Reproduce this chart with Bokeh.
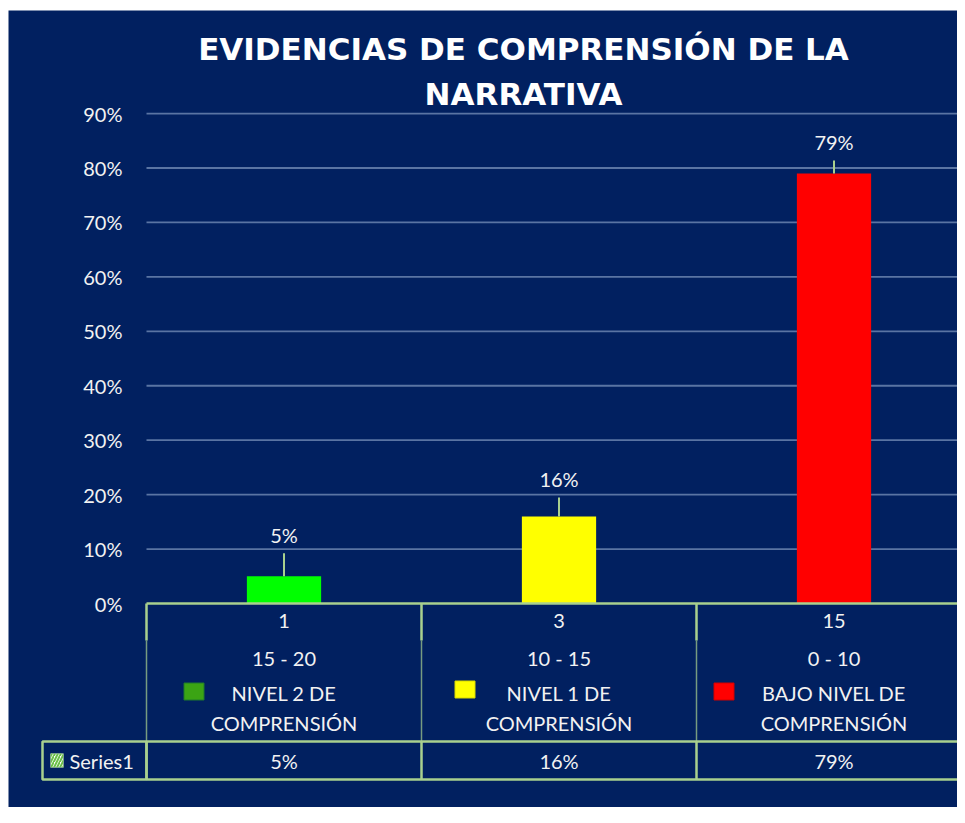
from bokeh.plotting import figure
from bokeh.models import Range1d, FixedTicker, NumeralTickFormatter
from bokeh.core.properties import value
from bokeh.embed import file_html
from bokeh.resources import INLINE

# ---------------- data ----------------
counts = ["1", "3", "15"]
score_ranges = ["15 - 20", "10 - 15", "0 - 10"]
level_line1 = ["NIVEL 2 DE", "NIVEL 1 DE", "BAJO NIVEL DE"]
level_line2 = ["COMPRENSIÓN", "COMPRENSIÓN", "COMPRENSIÓN"]
percentages = [0.05, 0.16, 0.79]
series_name = "Series1"
y_ticks = [0.0, 0.1, 0.2, 0.3, 0.4, 0.5, 0.6, 0.7, 0.8, 0.9]
title_lines = ["EVIDENCIAS DE COMPRENSIÓN DE LA", "NARRATIVA"]

# ---------------- style ----------------
BG = "#012060"
TXT = "#F2F2F2"
GRID = "#5a74a3"
TBL = "#a9d08e"
bar_colors = ["#00FF00", "#FFFF00", "#FF0000"]
key_colors = ["#3BA414", "#FFFF00", "#FF0000"]
key_lines = ["#1f7a2a", "#d8d800", "#d00000"]
key_dx_px = [-90, -94, -110]
key_y_px = [691, 689, 691]
label_dy_px = [-41, -37, -31]
leader_px = [23, 19, 13]
FONT = "Lato"
FS = "20px"
UNIT = 275.0          # px per category
YPX = 544.4           # px per 1.0 (100%)
W, H = 957, 807
FL, FT = 8, 10        # frame left / top (canvas px)
X0, Y0 = 146, 603     # canvas position of category origin / 0%

xs = [i + 0.5 for i in range(len(percentages))]
pct_labels = [f"{round(v * 100)}%" for v in percentages]

p = figure(width=W, height=H, output_backend="svg", toolbar_location=None,
           x_range=Range1d((FL - X0) / UNIT, (W - X0) / UNIT),
           y_range=Range1d(-(H - Y0) / YPX, (Y0 - FT) / YPX),
           x_axis_location=None,
           min_border_left=FL, min_border_right=0, min_border_top=FT, min_border_bottom=0,
           background_fill_color=BG, border_fill_color="#FFFFFF", outline_line_color=None)

# pixel ranges for layout-only elements (title, table frame)
p.extra_x_ranges = {"px": Range1d(start=FL, end=W)}
p.extra_y_ranges = {"px": Range1d(start=H, end=FT)}

# title
p.text(x=[523, 523], y=[48, 93], text=title_lines, x_range_name="px", y_range_name="px",
       text_align="center", text_baseline="middle", text_color="#FFFFFF",
       text_font=value("DejaVu Sans"), text_font_style="bold", text_font_size="31px")

# y axis (labels pushed into the chart area)
ax = p.yaxis[0]
ax.ticker = FixedTicker(ticks=y_ticks)
ax.formatter = NumeralTickFormatter(format="0%")
ax.axis_line_color = None
ax.major_tick_line_color = None
ax.minor_tick_line_color = None
ax.major_label_text_color = TXT
ax.major_label_text_font = FONT
ax.major_label_text_font_size = FS
ax.major_label_standoff = -(128 - FL)

p.xgrid.visible = False
p.ygrid.visible = False
grid_y = y_ticks[1:]
p.segment(x0=[0] * len(grid_y), y0=grid_y, x1=[3] * len(grid_y), y1=grid_y,
          line_color=GRID, line_width=1.8)

# bars
p.vbar(x=xs, top=percentages, bottom=0, width=0.27, color=bar_colors, line_color=None)

# leader lines and value labels
p.segment(x0=xs, y0=percentages, x1=xs, y1=[v + d / YPX for v, d in zip(percentages, leader_px)],
          line_color=TBL, line_width=2)
p.text(x=xs, y=percentages, text=pct_labels, y_offset=label_dy_px,
       text_align="center", text_baseline="middle", text_color=TXT,
       text_font=value(FONT), text_font_size=FS)

# ---------------- data table ----------------
edges = [0, 1, 2, 3]
p.segment(x0=[0], y0=[Y0], x1=[3], y1=[Y0], line_color=TBL, line_width=2.5, y_range_name="px")
p.segment(x0=[0, 0], y0=[741, 779], x1=[3, 3], y1=[741, 779], line_color=TBL,
          line_width=2.5, y_range_name="px")
p.segment(x0=edges, y0=[Y0] * 4, x1=edges, y1=[640] * 4, line_color=TBL, line_width=2.5, y_range_name="px")
p.segment(x0=edges, y0=[640] * 4, x1=edges, y1=[741] * 4, line_color=TBL, line_width=1.5,
          line_alpha=0.7, y_range_name="px")
p.segment(x0=edges, y0=[741] * 4, x1=edges, y1=[779] * 4, line_color=TBL, line_width=2.5, y_range_name="px")

txt_kw = dict(text_align="center", text_baseline="middle", text_color=TXT,
              text_font=value(FONT), text_font_size=FS, y_range_name="px")
p.text(x=xs, y=[620] * 3, text=counts, **txt_kw)
p.text(x=xs, y=[657] * 3, text=score_ranges, **txt_kw)
p.text(x=xs, y=[692] * 3, text=level_line1, **txt_kw)
p.text(x=xs, y=[722] * 3, text=level_line2, **txt_kw)
p.text(x=xs, y=[760] * 3, text=pct_labels, **txt_kw)

# legend keys
p.rect(x=[x + d / UNIT for x, d in zip(xs, key_dx_px)], y=key_y_px, width=20, height=17,
       width_units="screen", height_units="screen", fill_color=key_colors,
       line_color=key_lines, line_width=1, y_range_name="px")

# Series1 header cell
p.quad(left=[42], right=[X0], top=[741], bottom=[779], x_range_name="px", y_range_name="px",
       fill_alpha=0, line_color=TBL, line_width=2.5)
p.quad(left=[50], right=[63], top=[753], bottom=[767], x_range_name="px", y_range_name="px",
       fill_color="#FFFFFF", line_color=None,
       hatch_pattern="/", hatch_color="#6cc04a", hatch_scale=6, hatch_weight=2)
p.text(x=[69], y=[760], text=[series_name], x_range_name="px", y_range_name="px",
       text_align="left", text_baseline="middle", text_color=TXT,
       text_font=value(FONT), text_font_size=FS)

open("out.html", "w").write(file_html(p, INLINE))
